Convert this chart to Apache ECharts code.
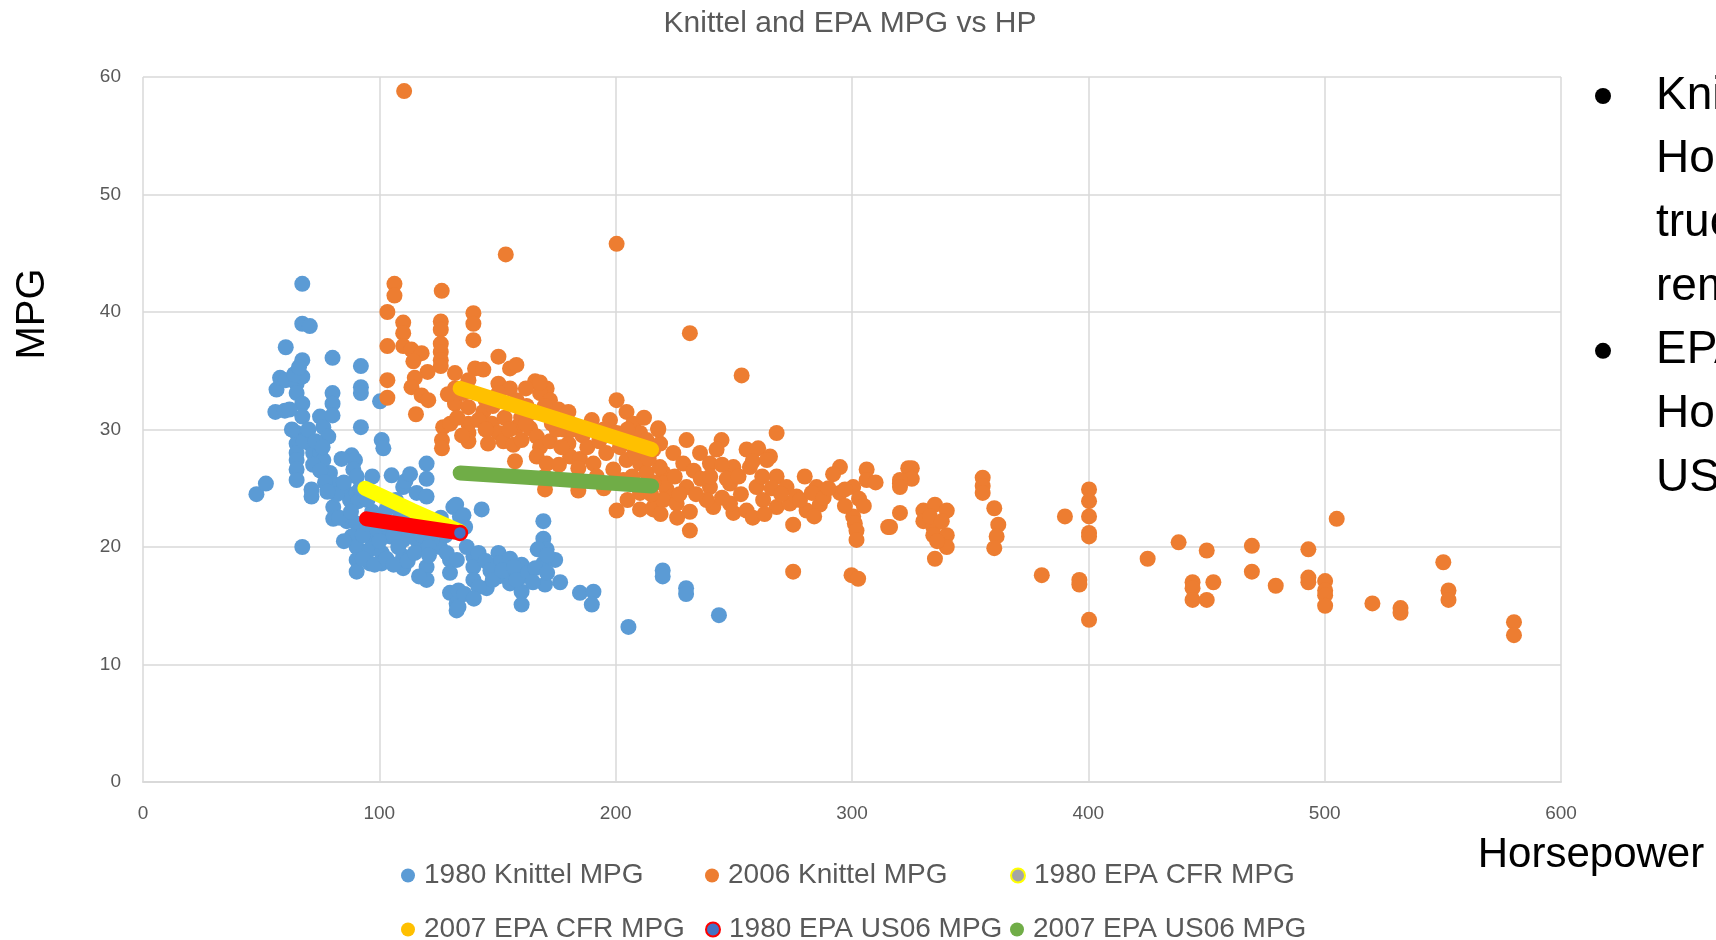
<!DOCTYPE html>
<html>
<head>
<meta charset="utf-8">
<script src="https://cdn.jsdelivr.net/npm/echarts@6/dist/echarts.min.js"></script>
<style>
html,body{margin:0;padding:0;background:#fff;}
#chart{width:1716px;height:940px;}
</style>
</head>
<body>
<div id="chart"></div>
<script>
// ---- data (horsepower, MPG) ----
var chartTitle = "Knittel and EPA MPG vs HP";
var seriesNames = ["1980 Knittel MPG", "2006 Knittel MPG", "1980 EPA CFR MPG", "2007 EPA CFR MPG", "1980 EPA US06 MPG", "2007 EPA US06 MPG"];
var xTicks = [0, 100, 200, 300, 400, 500, 600];
var yTicks = [0, 10, 20, 30, 40, 50, 60];

var knittel1980 = [
[48,24.5],[52,25.4],[56,31.5],[56.5,33.4],[58,34.4],[60,31.6],[60.4,37.0],[60.4,34.2],[65,33.9],[65,33.1],[65,29.7],[65,28.8],[65,28.0],[65,27.4],[65,26.6],[65,25.7],
[67.4,42.4],[67.4,39.0],[70.6,38.8],[67.4,35.9],[67.4,34.5],[67.4,32.2],[67.4,31.1],[67.4,20.0],[69.2,29.7],[70.6,28.8],[72,28.0],[74.9,28.0],[76.3,27.4],[79.1,26.3],
[80.5,25.4],[71.3,24.9],[71.3,24.3],[74.9,31.1],[76.3,30.2],[78.4,29.4],[80.2,36.1],[80.2,33.1],[80.2,32.2],[80.2,31.2],[80.5,23.4],[80.5,22.4],[88.3,27.8],[89.7,27.4],
[89,26.6],[90.4,26.0],[86.2,24.6],[87.6,24.0],[90.4,24.6],[91.1,23.9],[86.2,22.2],[90.4,22.0],[88.3,20.9],[90.4,20.0],[90.4,18.9],[90.4,17.9],[92.2,35.4],[92.2,33.6],
[92.2,33.1],[92.2,30.2],[96,20.9],[96,19.8],[96,18.6],[100.3,32.4],[101,29.1],[101.7,28.4],[101,19.5],[101,18.6],[103,23.2],[104.5,20.9],[105.2,26.1],[108.7,22.6],
[110.1,25.1],[110.1,20.6],[110.1,19.2],[110.1,18.2],[114.4,22.3],[115.8,24.6],[115.8,20.6],[120,27.1],[120,25.8],[120,24.3],[120,19.8],[120,18.3],[120,17.2],[125.6,20.0],
[129.9,18.9],[129.9,17.8],[131.3,23.4],[134.1,22.6],[129.9,16.1],[132.7,15.2],[132.7,14.6],[132.5,23.6],[135.6,22.7],[136.3,21.7],[143.3,23.2],[128.5,19.5],[132.8,18.9],
[139.8,19.2],[139.8,18.3],[139.8,17.2],[133.5,16.3],[133.5,14.9],[145.4,16.5],[150.4,19.5],[150.4,18.6],[150.4,17.5],[155.3,19.0],[155.3,17.9],[155.3,16.9],[160.2,18.5],
[160.2,17.5],[160.2,16.2],[160.2,15.1],[169.4,22.2],[169.4,20.7],[170.8,19.8],[174.4,18.9],[169.4,18.6],[170.1,16.8],[176.5,17.0],[184.9,16.1],[190.6,16.2],[189.9,15.1],
[205.4,13.2],[219.9,18.0],[219.9,17.5],[229.8,16.5],[229.8,16.0],[243.7,14.2],
[93,21],[95,22],[97,23],[99,21.5],[100,20.5],[102,22],[104,23.5],[106,21],[107,24],[108,20],[112,21.5],[113,23],[117,22],[118,21],[122,22],[124,21.5],[126,22.5],[128,21],
[93,19],[98,18.5],[103,19],[106,18.5],[112,18.8],[115,19.5],[92,25],[95,24],[97,26],[84,27.5],[83,22.5],[85,20.5],[82,24.5],[62,31.7],[63,30],[64,34.7],[66,35.3],[68,29],
[70,30],[72,27],[75,26.5],[77,25.5],[78,24.7],[73,29],[76,28.5],[85,25.5],[88,23],[111,25.6],[113,26.2],[122,20.5],[137,20],[142,19.5],[145,18.8],[147,18],[148,17.2],
[152,18],[157,18.3],[158,17.2],[163,17.8],[166,18.2],[167,19.8],[171,19.3],[171,17.8],[165,17],[136,16],[142,16.6],[140,15.6],[121,20],[121,19.3],[116.8,17.5]
];

var knittel2006 = [
[110.5,58.8],[200.4,45.8],[153.5,44.9],[106.4,42.4],[106.4,41.4],[126.4,41.8],[103.4,40.0],[110.1,39.1],[110.1,38.2],[110.1,37.1],[103.4,37.1],[113.6,36.8],[117.9,36.5],
[114.4,35.8],[126,39.2],[126,38.5],[126,37.3],[126,36.6],[126,35.9],[126,35.4],[120.4,34.9],[132,34.8],[115,34.4],[113.6,33.6],[117.9,32.9],[120.7,32.5],[103.4,34.2],
[103.4,32.7],[115.5,31.3],[127,30.2],[126.5,29.1],[126.5,28.4],[132,32.2],[139.8,39.9],[139.8,39.0],[139.8,37.6],[150.4,36.2],[155.3,35.2],[140.5,35.2],[144,35.1],
[137.7,34.2],[135.6,33.1],[137.7,31.9],[144,31.5],[150.4,33.9],[155.3,33.5],[150.4,33.1],[158.1,32.5],[162.3,32.0],[165.9,34.1],[170.8,33.5],[168,33.1],[172.2,32.5],
[175.8,31.7],[180,31.5],[137.7,30.5],[137.7,29.7],[137.7,29.0],[147.6,30.5],[150.4,29.7],[152.5,29.0],[158.1,30.2],[156.7,28.7],[160.2,29.1],[163.8,30.1],[166.6,29.4],
[168,28.5],[172.2,29.0],[166.6,27.7],[170.8,27.1],[170.1,26.0],[170.1,24.9],[157.4,27.3],[180,28.8],[180.7,27.7],[184.9,27.5],[184.2,26.7],[184.2,25.7],[184.2,24.8],
[190.6,27.1],[189.9,30.8],[200.4,32.5],[204.6,31.5],[197.6,30.8],[200.4,29.7],[201.8,28.5],[204.6,27.4],[199,26.6],[203.2,25.7],[200.4,23.1],[207.5,30.5],[210.3,29.7],
[213.1,29.1],[210.3,28.3],[210.3,27.1],[213.1,26.3],[210.3,24.6],[210.3,23.2],[216,23.4],[218,30.1],[218.8,28.8],[220.2,26.3],[221.6,24.9],[223,24.3],[231.4,38.2],
[253.3,34.6],[218,30.0],[268.1,29.7],[230,29.1],[244.8,29.1],[215.9,28.3],[224.4,28.0],[235.7,28.0],[242.7,28.3],[255.4,28.3],[260.3,28.4],[265.3,27.7],[218.7,26.8],
[228.6,27.1],[239.9,27.1],[249.8,26.8],[256.8,26.8],[268.1,26.0],[280,26.0],[294.9,26.8],[306.2,26.6],[220.1,25.4],[230,25.1],[239.9,25.1],[248.4,25.4],[259.6,25.1],
[272.3,25.1],[285,25.1],[294.9,24.6],[300.5,25.1],[306.2,25.7],[215.9,23.2],[231.4,23.0],[241.3,23.4],[249.8,22.9],[255.4,23.1],[268.1,23.4],[273.7,23.7],[280.8,23.1],
[286.4,23.6],[220.1,24.0],[225.8,23.7],[238.5,24.0],[248.4,23.7],[262.4,24.0],[276.5,24.3],[231.4,21.4],[275.1,21.9],[300.5,22.6],[301.2,22.0],[301.9,21.4],[301.9,20.6],
[320.3,25.4],[320.3,22.9],[315.3,21.7],[323.8,26.7],[275.1,17.9],[299.8,17.6],[302.6,17.3],[325.3,26.7],[325.3,25.8],[320.3,25.7],[320.3,25.1],[316.1,21.7],[330.2,23.1],
[335.1,23.6],[340.1,23.1],[330.2,22.2],[334.4,21.7],[334.4,21.0],[340.1,21.0],[340.1,20.0],[335.1,19.0],[355.3,25.9],[355.3,25.2],[355.3,24.6],[360.2,23.3],[361.9,21.9],
[361.2,20.9],[360.2,19.9],[380.3,17.6],[390.1,22.6],[400.3,24.9],[400.3,23.9],[400.3,22.6],[400.3,21.2],[400.3,20.9],[396.2,17.2],[396.2,16.8],[400.3,13.8],[425.1,19.0],
[438.2,20.4],[450.1,19.7],[444.1,17.0],[444.1,16.5],[444.1,15.5],[450.1,15.5],[452.9,17.0],[469.2,20.1],[469.2,17.9],[479.3,16.7],[493.1,19.8],[493.1,17.4],[493.1,17.0],
[500.2,17.1],[500.2,16.3],[500.2,15.9],[500.2,15.0],[505.1,22.4],[520.2,15.2],[532.1,14.8],[532.1,14.4],[550.2,18.7],[552.4,16.3],[552.4,15.5],[580.1,13.6],[580.1,12.5],
[130,30.5],[133,31],[135,29.5],[142,30.8],[145,30],[146,28.8],[148,32],[153,31],[155,30],[160,31],[162,30.5],[165,31.5],[175,30],[177,28.5],[176,27],[178,30],[182,30],
[186,29.5],[188,28.5],[193,29],[195,30],[196,28],[192,26],[195,25],[205,30],[206,29],[208,28],[212,31],[214,27.5],[216,25.5],[205,24],[207,26],[215,24.5],[225,26],
[227,24.5],[233,26.5],[236,25.8],[240,26],[245,27],[247,25.8],[252,26],[253,24.5],[258,27.3],[262,26],[264,27.4],[266,25],[270,24.5],[278,24],[283,24.6],[288,24.2],
[290,25],[292,26.2],[297,24.9],[303,24.1],[305,23.5],[310,25.5],[245,24.2],[234,24.5],[226,22.5],[219,22.8],[258,22.5],[263,22.8],[284,22.6],[297,23.5],[333,22.6],
[338,22.2],[336,20.5],[158,35.5],[162,33.5],[168,34],[170,32],[173,30.5],[132,33.5],[129,33],[145,32.5]
];

var epaCfr1980 = [[93.9,25.0],[114,23.1],[134.2,21.3]];
var epaCfr2007 = [[134.2,33.5],[175,30.9],[215.2,28.3]];
var epaUs061980 = [[94.6,22.4],[114,21.8],[134.1,21.2]];
var epaUs062007 = [[134.2,26.3],[172.2,25.8],[215.2,25.2]];

var sideParagraphs = [
  ["Knittel MPG vs", "Horsepower for cars,", "trucks & SUVs", "removed outliers"],
  ["EPA MPG vs", "Horsepower CFR and", "US06 cycles"]
];

// ---- chart ----
var chart = echarts.init(document.getElementById('chart'), null, {renderer: 'canvas'});
var FONT = 'Liberation Sans';
var grey = '#595959';

var us06Data = epaUs061980.map(function (p, i) {
  if (i === epaUs061980.length - 1) {
    return {value: p, symbol: 'circle', symbolSize: 14};
  }
  return {value: p};
});

var graphics = [
  {type: 'text', x: 33, y: 314, rotation: Math.PI / 2,
   style: {text: 'MPG', fill: '#000', font: '40px "' + FONT + '"', textAlign: 'center', textVerticalAlign: 'middle'}},
  {type: 'text', x: 1591, y: 855,
   style: {text: 'Horsepower', fill: '#000', font: '42px "' + FONT + '"', textAlign: 'center', textVerticalAlign: 'middle'}}
];
var lineY = 96;
sideParagraphs.forEach(function (para) {
  graphics.push({type: 'circle', shape: {cx: 1603, cy: lineY, r: 8}, style: {fill: '#000'}});
  para.forEach(function (line) {
    graphics.push({type: 'text', x: 1656, y: lineY,
      style: {text: line, fill: '#000', font: '46px "' + FONT + '"', textAlign: 'left', textVerticalAlign: 'middle'}});
    lineY += 63.7;
  });
});

// one legend block per entry, laid out as a 3-column grid
var legendCols = [396, 700, 1005];
var legendRows = [856, 910];
var legends = seriesNames.map(function (name, i) {
  return {
    data: [name],
    left: legendCols[i % 3], top: legendRows[Math.floor(i / 3)],
    icon: 'circle', itemWidth: 14, itemHeight: 14,
    textStyle: {color: grey, fontFamily: FONT, fontSize: 28, lineHeight: 29, padding: [0, 0, 0, 4]}
  };
});

var option = {
  backgroundColor: '#fff',
  animation: false,
  title: {
    text: chartTitle, left: 845, top: 4, textAlign: 'center',
    textStyle: {color: grey, fontFamily: FONT, fontSize: 30, fontWeight: 'normal'}
  },
  grid: {left: 143, right: 155, top: 77, bottom: 158, containLabel: false},
  legend: legends,
  xAxis: {
    type: 'value', min: xTicks[0], max: xTicks[xTicks.length - 1], interval: 100,
    axisLine: {show: true, lineStyle: {color: '#d9d9d9', width: 2}},
    axisTick: {show: false},
    axisLabel: {color: grey, fontFamily: FONT, fontSize: 19, margin: 22},
    splitLine: {show: true, lineStyle: {color: '#d9d9d9', width: 1.5}}
  },
  yAxis: {
    type: 'value', min: yTicks[0], max: yTicks[yTicks.length - 1], interval: 10,
    axisLine: {show: false},
    axisTick: {show: false},
    axisLabel: {color: grey, fontFamily: FONT, fontSize: 19, margin: 22},
    splitLine: {show: true, lineStyle: {color: '#d9d9d9', width: 1.5}}
  },
  graphic: graphics,
  series: [
    {name: seriesNames[0], type: 'scatter', data: knittel1980, symbolSize: 16,
     itemStyle: {color: '#5B9BD5', opacity: 1}},
    {name: seriesNames[1], type: 'scatter', data: knittel2006, symbolSize: 16,
     itemStyle: {color: '#ED7D31', opacity: 1}},
    {name: seriesNames[2], type: 'line', data: epaCfr1980, symbol: 'none', showSymbol: false,
     itemStyle: {color: '#A5A5A5', borderColor: '#FFFF00', borderWidth: 2.5},
     lineStyle: {color: '#FFFF00', width: 15, cap: 'round', join: 'round'}, z: 3},
    {name: seriesNames[3], type: 'line', data: epaCfr2007, symbol: 'none', showSymbol: false,
     itemStyle: {color: '#FFC000'},
     lineStyle: {color: '#FFC000', width: 15, cap: 'round', join: 'round'}, z: 3},
    {name: seriesNames[4], type: 'line', data: us06Data, symbol: 'none',
     itemStyle: {color: '#4472C4', borderColor: '#FF0000', borderWidth: 2.5},
     lineStyle: {color: '#FF0000', width: 15, cap: 'round', join: 'round'}, z: 4},
    {name: seriesNames[5], type: 'line', data: epaUs062007, symbol: 'none', showSymbol: false,
     itemStyle: {color: '#70AD47'},
     lineStyle: {color: '#70AD47', width: 15, cap: 'round', join: 'round'}, z: 3}
  ]
};
chart.setOption(option);
</script>
</body>
</html>
